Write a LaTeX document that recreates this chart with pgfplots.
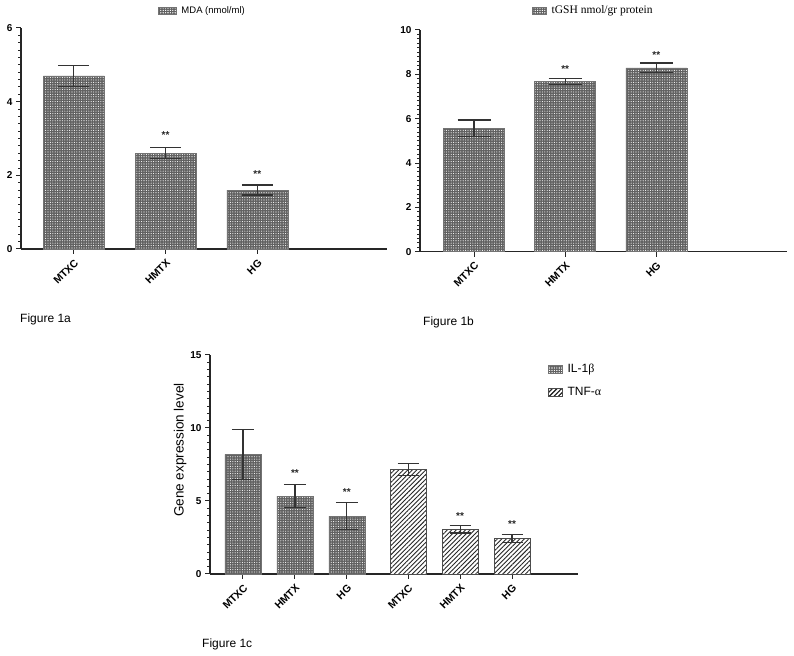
\documentclass[border=0pt]{standalone}
\usepackage{fontspec}
\setmainfont{Liberation Sans}
\newfontfamily\timesfont{Liberation Serif}
\usepackage{pgfplots}
\pgfplotsset{compat=1.18}
\usetikzlibrary{patterns.meta}

\newcommand\tickfont{\fontsize{10bp}{11bp}\selectfont\bfseries}
\newcommand\ticklabfont{\fontsize{10.5bp}{12bp}\selectfont\bfseries}
\newcommand\starfont{\fontsize{10bp}{12bp}\selectfont\bfseries}
\newcommand\legafont{\fontsize{9.5bp}{11bp}\selectfont}
\newcommand\legbfont{\timesfont\fontsize{11.5bp}{13bp}\selectfont}
\newcommand\legcfont{\fontsize{12bp}{14bp}\selectfont}
\newcommand\ylabfont{\fontsize{13.5bp}{15bp}\selectfont}
\newcommand\figfont{\fontsize{12bp}{14bp}\selectfont}

\tikzset{
  dotbar/.style={fill=black!62, draw=black!55, line width=0.6bp,
    postaction={pattern={Dots[distance=2.4bp, radius=0.55bp]}, pattern color=white}},
  hatchbar/.style={fill=white, draw=black!70, line width=0.6bp,
    postaction={pattern={Lines[angle=45, distance=3.2bp, line width=0.9bp]}, pattern color=black!85}},
}

\pgfplotsset{
  panel/.style={
    scale only axis, anchor=south west,
    axis x line*=bottom, axis y line*=left,
    axis line style={line width=1.2bp, black!85},
    major tick style={line width=1bp, black!85},
    tick align=outside,
    major tick length=5bp,
    xtick={0,1,2}, xticklabels={MTXC,HMTX,HG},
    xticklabel style={rotate=45, anchor=north east, font=\ticklabfont, inner sep=1bp},
    xticklabel shift=3bp,
    yticklabel style={font=\tickfont},
    extra y tick labels={},
    extra y tick style={major tick length=3bp, major tick style={line width=0.9bp, black!85}},
    /pgf/number format/assume math mode=true,
    ymin=0, clip=false,
    legend style={draw=none, fill=none, inner sep=0pt, column sep=3bp},
  },
  errs/.style={
    error bars/y dir=both, error bars/y explicit,
    error bars/error bar style={line width=1.2bp, black!80},
    error bars/error mark options={rotate=90, mark size=#1, line width=1.2bp, black!80}},
  stars/.style={draw=none, mark=none, forget plot, nodes near coords={**},
    every node near coord/.style={anchor=center, yshift=-2.2bp, font=\starfont, black!85}},
}

\begin{document}
\begin{tikzpicture}[x=1bp,y=1bp]
\path[use as bounding box] (0,0) rectangle (794,656);

% Figure 1a
\begin{axis}[panel, at={(21bp,407bp)}, width=366bp, height=221bp,
    xmin=-0.576, xmax=3.413, ymax=6, ytick={0,2,4,6},
    extra y ticks={0.2,0.4,...,1.9,2.2,2.4,...,3.9,4.2,4.4,...,5.9},
    legend style={at={(0.3735,1.077)}, anchor=west, font=\legafont}]
\addplot[ybar, bar width=61bp, bar shift=0pt, dotbar, errs=15.5bp,
    legend image code/.code={\draw[dotbar] (0bp,-3.2bp) rectangle (18bp,3.2bp);}]
  table[x=x, y=y, y error=e] {
x y e
0 4.70 0.28
1 2.60 0.15
2 1.60 0.135
};
\addlegendentry{MDA (nmol/ml)}
\addplot[stars] table[x=x, y=y] {
x y
1 3.15
2 2.10
};
\end{axis}

% Figure 1b
\begin{axis}[panel, at={(420bp,404.3bp)}, width=367bp, height=221.7bp,
    xmin=-0.593, xmax=3.434, ymax=10, ytick={0,2,...,10},
    extra y ticks={0.2,0.4,...,1.9,2.2,2.4,...,3.9,4.2,4.4,...,5.9,6.2,6.4,...,7.9,8.2,8.4,...,9.9},
    legend style={at={(0.305,1.087)}, anchor=west, font=\legbfont}]
\addplot[ybar, bar width=61bp, bar shift=0pt, dotbar, errs=16.5bp,
    legend image code/.code={\draw[dotbar] (0bp,-3.2bp) rectangle (14bp,3.2bp);}]
  table[x=x, y=y, y error=e] {
x y e
0 5.57 0.37
1 7.67 0.135
2 8.29 0.22
};
\addlegendentry{tGSH nmol/gr protein}
\addplot[stars] table[x=x, y=y] {
x y
1 8.35
2 8.99
};
\end{axis}

% Figure 1c
\begin{axis}[panel, at={(210bp,82bp)}, width=368bp, height=219bp,
    xmin=-0.635, xmax=6.45, ymax=15, ytick={0,5,10,15},
    extra y ticks={0.5,1,...,4.6,5.5,6,...,9.6,10.5,11,...,14.6},
    xtick={0,1,2,3.18,4.18,5.18},
    xticklabels={MTXC,HMTX,HG,MTXC,HMTX,HG},
    ylabel={Gene expression level},
    ylabel style={font=\ylabfont, at={(axis description cs:-0.0815,0.566)}, anchor=center},
    legend style={at={(0.918,0.968)}, anchor=north west, font=\legcfont,
      row sep=9.5bp, legend cell align=left}]
\addplot[ybar, bar width=36bp, bar shift=0pt, dotbar, errs=11bp,
    legend image code/.code={\draw[dotbar] (0bp,-4.3bp) rectangle (14bp,4.3bp);}]
  table[x=x, y=y, y error=e] {
x y e
0 8.20 1.71
1 5.34 0.81
2 3.97 0.90
};
\addlegendentry{IL-1{\timesfont β}}
\addplot[ybar, bar width=36bp, bar shift=0pt, hatchbar, errs=10.5bp,
    legend image code/.code={\draw[hatchbar] (0bp,-4bp) rectangle (14bp,4bp);}]
  table[x=x, y=y, y error=e] {
x y e
3.18 7.17 0.40
4.18 3.06 0.25
5.18 2.42 0.28
};
\addlegendentry{TNF-{\timesfont α}}
\addplot[stars] table[x=x, y=y] {
x y
1 7.05
2 5.75
4.18 4.09
5.18 3.58
};
\end{axis}

\node[anchor=west, font=\figfont, inner sep=0pt] at (20,337) {Figure 1a};
\node[anchor=west, font=\figfont, inner sep=0pt] at (423,334) {Figure 1b};
\node[anchor=west, font=\figfont, inner sep=0pt] at (202,12) {Figure 1c};
\end{tikzpicture}
\end{document}
